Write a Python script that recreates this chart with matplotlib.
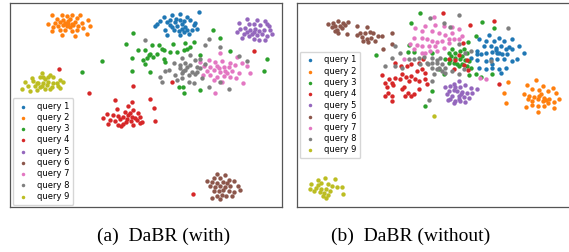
import numpy as np
import matplotlib.pyplot as plt

# embedding coordinates (arbitrary t-SNE units, y grows downward)
labels = ['query 1', 'query 2', 'query 3', 'query 4', 'query 5',
          'query 6', 'query 7', 'query 8', 'query 9']
colors = ['#1f77b4', '#ff7f0e', '#2ca02c', '#d62728', '#9467bd',
          '#8c564b', '#e377c2', '#7f7f7f', '#bcbd22']

# ---- (a) DaBR (with)
a_q1 = [(490,50),(515,45),(540,40),(560,50),(597,35),(470,70),(480,62),(500,65),(510,75),(525,65),
        (530,78),(545,70),(555,80),(570,60),(580,75),(585,68),(465,78),(495,88),(520,90),(535,92),
        (550,95),(565,100),(575,88),(500,105),(540,58),(528,55),(510,58),(550,62),(590,85),(545,85),
        (515,80),(560,88),(540,105)]
a_q2 = [(155,45),(185,45),(200,48),(215,45),(240,45),(170,55),(190,58),(210,55),(230,52),(265,58),
        (145,70),(165,68),(180,65),(195,68),(205,62),(215,70),(225,65),(245,68),(270,78),(160,80),
        (175,78),(190,75),(200,78),(210,80),(235,78),(250,82),(155,92),(180,90),(195,88),(215,92),
        (230,88),(185,105),(225,108),(260,102),(205,72),(198,70),(220,75)]
a_q3 = [(400,98),(378,130),(455,135),(475,135),(517,130),(555,128),(580,125),(638,88),(658,112),(415,150),
        (435,148),(450,160),(485,145),(490,150),(510,155),(530,155),(550,150),(560,145),(570,140),(305,182),
        (395,175),(430,180),(440,175),(445,165),(490,178),(495,185),(435,192),(395,212),(450,215),(245,215),
        (600,165),(690,152),(800,178),(790,212),(535,262),(548,262),(550,278),(598,270),(470,160),(458,170)]
a_q4 = [(345,300),(395,305),(448,298),(385,318),(460,325),(350,328),(375,335),(400,330),(415,340),(320,342),
        (340,345),(355,348),(370,350),(385,345),(395,352),(405,355),(420,350),(310,355),(330,360),(345,362),
        (360,358),(378,365),(392,362),(410,360),(425,365),(465,362),(325,372),(355,375),(370,372),(400,375),
        (420,370),(362,378),(390,340),(380,358),
        (178,207),(268,278),(400,258),(515,247),(578,582),(760,153)]
a_q5 = [(740,55),(770,58),(795,62),(715,68),(745,70),(760,72),(780,75),(800,70),(720,85),(735,82),
        (750,88),(765,85),(775,92),(790,88),(810,90),(815,100),(710,95),(730,100),(755,100),(770,105),
        (785,100),(800,108),(725,112),(760,115),(775,118),(795,120),(740,95),(760,95),(745,108),(805,78)]
a_q6 = [(650,522),(675,525),(640,535),(660,535),(685,540),(620,545),(635,548),(650,550),(668,548),(700,545),
        (630,560),(645,562),(660,558),(675,562),(690,558),(712,560),(640,575),(655,575),(668,572),(685,575),
        (700,578),(720,570),(650,588),(665,585),(678,590),(695,590),(635,595),(660,598),(680,550)]
a_q7 = [(660,158),(710,170),(600,185),(625,180),(645,185),(665,182),(690,190),(612,198),(630,200),(650,198),
        (670,202),(685,200),(705,195),(725,190),(740,198),(620,212),(640,210),(660,215),(675,212),(695,212),
        (715,218),(748,218),(608,225),(630,225),(650,230),(670,228),(690,232),(708,235),(640,240),(665,245),
        (728,248),(645,278),(655,205),(680,220)]
a_q8 = [(435,118),(625,115),(615,135),(660,140),(570,165),(545,175),(585,180),(600,178),(715,168),(740,182),
        (520,190),(540,195),(555,190),(570,195),(590,200),(615,192),(495,212),(505,210),(540,205),(555,210),
        (575,215),(590,215),(600,205),(480,230),(525,225),(545,220),(565,225),(585,222),(605,235),(485,247),
        (530,240),(545,235),(565,245),(580,250),(625,262),(660,245),(685,268),(560,202),(548,212)]
a_q9 = [(125,220),(150,225),(95,235),(120,232),(135,238),(160,232),(180,240),(75,245),(100,242),(115,248),
        (130,250),(145,245),(170,248),(190,245),(85,258),(105,258),(120,262),(140,255),(155,260),(175,258),
        (65,268),(90,272),(110,270),(135,268),(150,268),(180,265),(130,230),(110,250),(125,258),(145,232),
        (160,250)]

# ---- (b) DaBR (without)
b_q1 = [(610,105),(640,115),(580,120),(600,125),(625,125),(655,125),(680,118),(595,140),(615,140),(630,145),
        (645,140),(660,150),(670,142),(680,148),(700,140),(715,160),(575,155),(585,165),(600,160),(620,158),
        (635,160),(650,165),(665,165),(555,175),(575,182),(600,185),(615,180),(635,178),(655,178),(678,185),
        (695,180),(580,205),(600,210),(620,205),(640,210),(660,205),(645,220),(620,195),(630,152),(640,160),
        (575,165)]
b_q2 = [(668,248),(750,242),(725,258),(770,260),(800,265),(740,270),(760,272),(785,275),(810,280),(655,280),
        (715,285),(730,290),(745,292),(760,290),(775,295),(790,300),(820,298),(740,305),(755,300),(770,305),
        (785,310),(805,308),(660,310),(720,325),(738,318),(755,320),(775,322),(805,328),(755,338),(780,302),
        (765,285),(728,300)]
b_q3 = [(405,40),(376,70),(588,68),(625,85),(570,108),(548,128),(370,138),(368,158),(385,158),(272,166),
        (440,160),(490,160),(500,150),(510,160),(525,155),(535,150),(545,160),(480,178),(495,182),(510,175),
        (525,178),(540,182),(490,190),(505,190),(515,195),(530,195),(550,185),(545,200),(555,205),(460,210),
        (570,225),(585,232),(550,228),(620,225),(440,275),(420,322),(475,225),(520,200),(498,170),(530,170)]
b_q4 = [(474,40),(552,75),(625,64),(330,192),(348,200),(365,200),(378,195),(400,190),(412,180),(290,228),
        (312,240),(330,235),(350,225),(362,232),(378,230),(395,215),(410,210),(420,222),(300,250),(320,250),
        (345,240),(355,262),(372,245),(388,240),(402,245),(420,240),(305,262),(325,258),(350,270),(368,282),
        (385,285),(400,268),(310,280),(320,290),(360,290),(378,290),(322,305),(300,290),(425,255),(545,182),
        (532,132),(548,212),(535,198),(505,210),(490,178),(520,168),(510,182),(640,255)]
b_q5 = [(520,245),(505,255),(480,262),(495,260),(510,262),(525,262),(540,258),(555,265),(490,275),(505,272),
        (515,275),(530,278),(545,280),(560,282),(485,285),(500,290),(520,290),(535,292),(550,295),(495,300),
        (510,305),(525,305),(540,308),(505,312),(520,300),(528,285),(575,270),(488,302)]
b_q6 = [(130,72),(145,70),(160,65),(175,70),(188,68),(150,80),(165,78),(180,75),(140,82),(155,90),
        (170,85),(185,102),(160,100),(215,78),(245,82),(225,100),(240,100),(255,98),(265,100),(280,108),
        (292,108),(320,100),(230,112),(245,118),(258,115),(270,125),(235,125),(250,128),(295,150),(320,135),
        (215,105),(150,95)]
b_q7 = [(445,52),(390,85),(420,80),(450,75),(475,80),(500,82),(520,88),(410,95),(440,95),(460,100),
        (480,105),(500,100),(385,115),(410,115),(425,120),(440,125),(455,128),(470,125),(490,130),(505,120),
        (520,118),(375,135),(395,138),(410,140),(430,140),(450,140),(475,145),(435,155),(420,162),(455,155),
        (385,150),(355,180),(410,160),(600,240),(582,235),(490,118),(530,110)]
b_q8 = [(435,55),(520,45),(475,70),(495,82),(330,140),(345,160),(322,175),(370,180),(385,180),(400,175),
        (415,172),(440,175),(455,182),(465,175),(425,190),(440,192),(455,190),(470,195),(480,205),(440,205),
        (455,210),(470,215),(300,200),(330,200),(350,205),(445,225),(480,220),(500,215),(520,225),(535,210),
        (555,155),(520,135),(540,160),(615,186),(668,84),(430,302),(440,245),(428,195),(462,205),(405,195)]
b_q9 = [(445,352),(120,538),(100,545),(150,542),(80,555),(110,552),(130,555),(140,562),(155,565),(75,570),
        (95,568),(110,572),(125,570),(170,565),(88,578),(105,580),(118,582),(135,578),(175,585),(115,592),
        (125,598),(100,560),(130,588)]

panels = [
    ([a_q1, a_q2, a_q3, a_q4, a_q5, a_q6, a_q7, a_q8, a_q9], (30, 845), (622, 8), 'lower left'),
    ([b_q1, b_q2, b_q3, b_q4, b_q5, b_q6, b_q7, b_q8, b_q9], (37, 852), (625, 10), 'center left'),
]

fig = plt.figure(figsize=(5.69, 2.52), dpi=100)
boxes = [[10/569, 45/252, 272/569, 204/252], [297/569, 45/252, 273/569, 204/252]]

for (groups, xl, yl, loc), box in zip(panels, boxes):
    ax = fig.add_axes(box)
    for pts, c, lab in zip(groups, colors, labels):
        p = np.array(pts)
        ax.scatter(p[:, 0], p[:, 1], s=10, c=c, linewidths=0, label=lab)
    ax.set_xlim(*xl)
    ax.set_ylim(*yl)
    ax.set_xticks([])
    ax.set_yticks([])
    for sp in ax.spines.values():
        sp.set_color('#555555')
        sp.set_linewidth(0.9)
    ax.legend(loc=loc, fontsize=6, markerscale=0.8, handletextpad=0.9,
              labelspacing=0.27, borderpad=0.45, handlelength=1.6,
              borderaxespad=0.3, frameon=True, fancybox=True, framealpha=0.8)

fig.text(164/569, 1 - 236/252, '(a)  DaBR (with)', ha='center', va='center',
         fontsize=14, family='Liberation Serif')
fig.text(411/569, 1 - 236/252, '(b)  DaBR (without)', ha='center', va='center',
         fontsize=14, family='Liberation Serif')

fig.savefig('out.png', dpi=100)
